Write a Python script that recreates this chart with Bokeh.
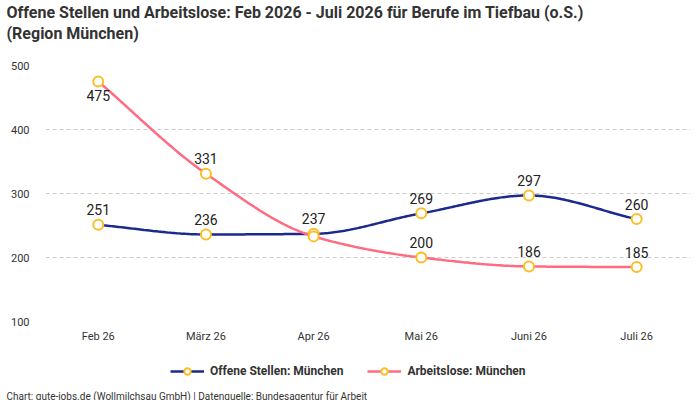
import numpy as np
from bokeh.plotting import figure
from bokeh.layouts import column
from bokeh.models import ColumnDataSource, Title, Legend, LegendItem, FixedTicker, Range1d, LabelSet
from bokeh.embed import file_html
from bokeh.resources import INLINE
from bokeh.core.properties import value

months = ["Feb 26", "März 26", "Apr 26", "Mai 26", "Juni 26", "Juli 26"]
offene = [251, 236, 237, 269, 297, 260]
arbeitslose = [475, 331, 233, 200, 186, 185]
y_ticks = [100, 200, 300, 400, 500]
series_names = ["Offene Stellen: München", "Arbeitslose: München"]
# label placement per point: 1 = above, -1 = below, 0 = hidden (overlap)
offene_place = [1, 1, 1, 1, 1, 1]
arbeitslose_place = [-1, 1, 0, 1, 1, 1]

FONT = "Roboto"
BLUE = "#1b2a8c"
PINK = "#ff6b81"
MARK = "#fbbf24"
TXT = "#333333"


def monotone(xs, ys, n=60):
    xs = np.asarray(xs, float)
    ys = np.asarray(ys, float)
    h = np.diff(xs)
    d = np.diff(ys) / h
    m = np.zeros_like(ys)
    m[0] = d[0]
    m[-1] = d[-1]
    for i in range(1, len(ys) - 1):
        if d[i - 1] * d[i] <= 0:
            m[i] = 0
        else:
            w1 = 2 * h[i] + h[i - 1]
            w2 = h[i] + 2 * h[i - 1]
            m[i] = (w1 + w2) / (w1 / d[i - 1] + w2 / d[i])
    X, Y = [], []
    for i in range(len(xs) - 1):
        t = np.linspace(0, 1, n)
        h00 = 2 * t**3 - 3 * t**2 + 1
        h10 = t**3 - 2 * t**2 + t
        h01 = -2 * t**3 + 3 * t**2
        h11 = t**3 - t**2
        X.extend(xs[i] + t * h[i])
        Y.extend(h00 * ys[i] + h10 * h[i] * m[i] + h01 * ys[i + 1] + h11 * h[i] * m[i + 1])
    return X, Y


xi = list(range(len(months)))

# ---------------- main chart ----------------
p = figure(frame_width=645, frame_height=256, output_backend="svg", toolbar_location=None,
           x_range=Range1d(-0.49, len(months) - 0.5), y_range=Range1d(100, 500),
           min_border_left=45, min_border_right=2, min_border_top=0, min_border_bottom=22)
p.outline_line_color = None
p.background_fill_color = "white"
p.border_fill_color = "white"

spacer = Title(text=" ", text_font=FONT, text_font_size="18px", standoff=0, offset=0)
t2 = Title(text="(Region München)", text_font=FONT, text_font_size="16px",
           text_font_style="bold", text_color=TXT, offset=-39, standoff=0)
t1 = Title(text="Offene Stellen und Arbeitslose: Feb 2026 - Juli 2026 für Berufe im Tiefbau (o.S.)",
           text_font=FONT, text_font_size="16px", text_font_style="bold", text_color=TXT,
           offset=-39, standoff=0)
p.add_layout(spacer, "above")
p.add_layout(t2, "above")
p.add_layout(t1, "above")

p.xaxis.ticker = FixedTicker(ticks=xi)
p.xaxis.major_label_overrides = {i: m for i, m in enumerate(months)}
p.yaxis.ticker = FixedTicker(ticks=y_ticks)
for ax in (p.xaxis, p.yaxis):
    ax.axis_line_color = None
    ax.major_tick_line_color = None
    ax.minor_tick_line_color = None
    ax.major_tick_in = 0
    ax.major_tick_out = 0
    ax.major_label_text_font = FONT
    ax.major_label_text_font_size = "11px"
    ax.major_label_text_color = TXT
p.yaxis.major_label_standoff = 16
p.xaxis.major_label_standoff = 8

p.xgrid.grid_line_color = None
p.ygrid.grid_line_color = "#cccccc"
p.ygrid.grid_line_dash = "4 3"

bx, by = monotone(xi, offene)
px, py = monotone(xi, arbeitslose)
p.line(bx, by, line_color=BLUE, line_width=2.5)
p.line(px, py, line_color=PINK, line_width=2.5)
p.scatter(xi, offene, size=10, marker="circle", fill_color="white", line_color=MARK, line_width=2)
p.scatter(xi, arbeitslose, size=10, marker="circle", fill_color="white", line_color=MARK, line_width=2)

for vals, place in ((offene, offene_place), (arbeitslose, arbeitslose_place)):
    keep = [i for i, pl in enumerate(place) if pl != 0]
    src = ColumnDataSource(dict(x=[xi[i] for i in keep], y=[vals[i] for i in keep],
                                t=[str(vals[i]) for i in keep],
                                yo=[15 if place[i] > 0 else -14 for i in keep]))
    ls = LabelSet(x="x", y="y", text="t", y_offset="yo", source=src,
                  text_align="center", text_baseline="middle",
                  text_font=value(FONT), text_font_size="14px", text_color="#222222")
    p.add_layout(ls)

# ---------------- legend + footer strip ----------------
q = figure(frame_width=684, frame_height=43, output_backend="svg", toolbar_location=None,
           x_range=Range1d(0, 1), y_range=Range1d(0, 1),
           min_border_left=0, min_border_right=0, min_border_top=0, min_border_bottom=0)
q.axis.visible = False
q.grid.visible = False
q.outline_line_color = None
q.background_fill_color = "white"
q.border_fill_color = "white"

# legend swatches: renderers kept outside the visible range of this strip
rl1 = q.line([-5, -4], [-5, -5], line_color=BLUE, line_width=2.5)
rc1 = q.scatter([-5], [-5], size=10, marker="circle", fill_color="white", line_color=MARK, line_width=2)
rl2 = q.line([-5, -4], [-5, -5], line_color=PINK, line_width=2.5)
rc2 = q.scatter([-5], [-5], size=10, marker="circle", fill_color="white", line_color=MARK, line_width=2)

legend = Legend(items=[LegendItem(label=series_names[0], renderers=[rl1, rc1]),
                       LegendItem(label=series_names[1], renderers=[rl2, rc2])],
                orientation="horizontal", location=(170, 9),
                label_text_font=FONT, label_text_font_size="12px", label_text_font_style="bold",
                label_text_color=TXT, border_line_color=None, background_fill_alpha=0,
                spacing=24, glyph_width=34, glyph_height=16, label_height=16, label_standoff=6,
                margin=0, padding=4)
q.add_layout(legend, "center")

foot = Title(text="Chart: gute-jobs.de (Wollmilchsau GmbH) | Datenquelle: Bundesagentur für Arbeit",
             text_font=FONT, text_font_size="10px", text_font_style="normal", text_color=TXT,
             align="left", offset=-39, standoff=0)
q.add_layout(foot, "below")

layout = column(p, q, spacing=0)
open("out.html", "w").write(file_html(layout, INLINE))
